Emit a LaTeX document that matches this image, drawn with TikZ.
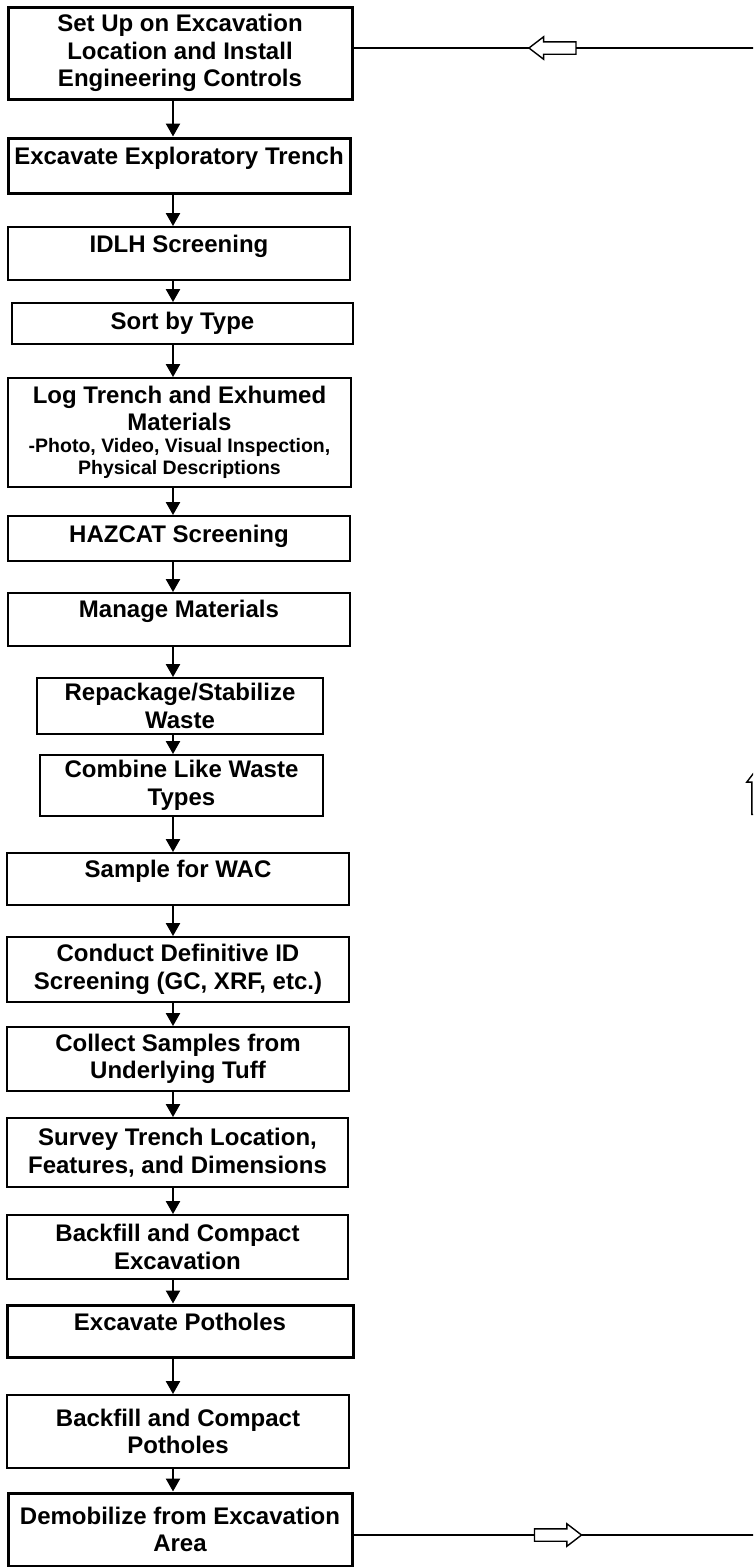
\documentclass[tikz,border=0pt]{standalone}
\usepackage{fontspec}
\setmainfont{Liberation Sans}
\usepackage{tikz}
\usetikzlibrary{arrows.meta, positioning, shapes.arrows}

\newcommand{\mainfnt}{\fontsize{24}{27.5}\selectfont\bfseries}
\newcommand{\subfnt}{\fontsize{19.5}{22}\selectfont\bfseries}

\begin{document}
\begin{tikzpicture}[x=1pt, y=-1pt,
    box/.style={rectangle, draw, line width=1.9pt, align=center, inner sep=0pt, font=\mainfnt},
    heavybox/.style={box, line width=3pt},
    raised/.style={text height=17pt, text depth=#1},
    arrow/.style={-{Triangle[width=14pt, length=13pt]}, line width=2.3pt},
    backline/.style={line width=1.5pt},
    hollow/.style={single arrow, draw, line width=1.4pt, fill=white, minimum height=47pt, inner sep=5.5pt, single arrow tip angle=75, single arrow head extend=5pt}
]
\useasboundingbox (0,0) rectangle (753,1567);
\clip (0,0) rectangle (753,1567);

% main sequence
\node[heavybox, minimum width=344pt, minimum height=92pt] (setup) at (180,53) {Set Up on Excavation\\Location and Install\\Engineering Controls};
\node[heavybox, raised=20pt, minimum width=342pt, minimum height=55pt] (trench) at (179,165.5) {Excavate Exploratory Trench};
\node[box, raised=20pt, minimum width=342pt, minimum height=53pt] (idlh) at (179,253.5) {IDLH Screening};
\node[box, raised=6pt, minimum width=341pt, minimum height=41pt] (sort) at (182.5,323.5) {Sort by Type};
\node[box, minimum width=343pt, minimum height=109pt] (log) at (179.5,432.5) {Log Trench and Exhumed\\Materials\\[-6pt]{\subfnt -Photo, Video, Visual Inspection,}\\[-5pt]{\subfnt Physical Descriptions}};
\node[box, raised=10pt, minimum width=342pt, minimum height=45pt] (hazcat) at (179,538.5) {HAZCAT Screening};
\node[box, raised=22pt, minimum width=342pt, minimum height=53pt] (manage) at (179,619.5) {Manage Materials};
\node[box, minimum width=286pt, minimum height=56pt] (repack) at (180,706) {Repackage/Stabilize\\Waste};
\node[box, minimum width=283pt, minimum height=61pt] (combine) at (181.5,785.5) {Combine Like Waste\\Types};
\node[box, raised=21pt, minimum width=342pt, minimum height=52pt] (wac) at (178,879) {Sample for WAC};
\node[box, minimum width=342pt, minimum height=65pt] (defid) at (178,969.5) {Conduct Definitive ID\\Screening (GC, XRF, etc.)};
\node[box, minimum width=342pt, minimum height=64pt] (tuff) at (178,1059) {Collect Samples from\\Underlying Tuff};
\node[box, minimum width=341pt, minimum height=69pt] (survey) at (177.5,1152.5) {Survey Trench Location,\\Features, and Dimensions};
\node[box, minimum width=341pt, minimum height=64pt] (backexc) at (177.5,1247) {Backfill and Compact\\Excavation};
\node[heavybox, raised=19pt, minimum width=346pt, minimum height=52pt] (potholes) at (180,1331) {Excavate Potholes};
\node[box, minimum width=342pt, minimum height=73pt] (backpot) at (178,1431.5) {Backfill and Compact\\Potholes};
\node[heavybox, minimum width=344pt, minimum height=73pt] (demob) at (180,1529.5) {Demobilize from Excavation\\Area};

% downward arrows
\coordinate (spine) at (173,0);
\foreach \a/\b in {setup/trench, trench/idlh, idlh/sort, sort/log, log/hazcat, hazcat/manage,
    manage/repack, repack/combine, combine/wac, wac/defid, defid/tuff, tuff/survey,
    survey/backexc, backexc/potholes, potholes/backpot, backpot/demob}
  \draw[arrow] (\a.south -| spine) -- (\b.north -| spine);

% return loop
\coordinate (loopne) at (758,48);
\coordinate (loopse) at (758,1535);
\draw[backline] (setup.east |- loopne) -- (loopne) -- (loopse) -- (demob.east |- loopse);
\node[hollow, shape border rotate=180] (backtop) at (556.5,48) {};
\node[hollow, shape border rotate=90] (backright) at (758,795) {};
\node[hollow] (backbottom) at (554,1535) {};
\end{tikzpicture}
\end{document}
